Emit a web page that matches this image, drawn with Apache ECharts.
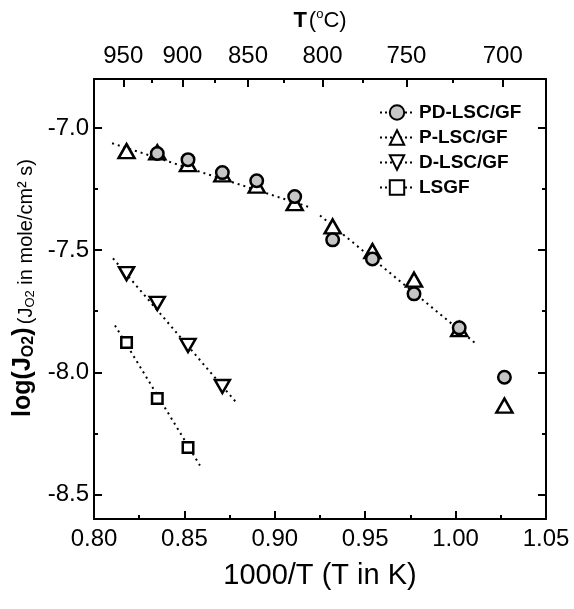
<!DOCTYPE html>
<html><head><meta charset="utf-8">
<script src="https://cdn.jsdelivr.net/npm/echarts@6/dist/echarts.min.js"></script>
<style>html,body{margin:0;padding:0;background:#fff}#c{width:574px;height:609px}</style>
</head><body><div id="c"></div>
<script>
// ---- tick definitions ----
const xTicks = [0.80, 0.85, 0.90, 0.95, 1.00, 1.05];
const xMinorTicks = [0.825, 0.875, 0.925, 0.975, 1.025];
const yTicks = [-8.5, -8.0, -7.5, -7.0];
const yMinorTicks = [-8.25, -7.75, -7.25];
const topTickLabels = ['950', '900', '850', '800', '750', '700'];
const topTickPositions = [0.8162, 0.8489, 0.8852, 0.9264, 0.9728, 1.0261];
const topMinorTickPositions = [0.8322, 0.8666, 0.9052, 0.9488, 0.9986];

// ---- series data ----
const seriesNames = ['PD-LSC/GF', 'P-LSC/GF', 'D-LSC/GF', 'LSGF'];
const pdX = [0.835, 0.852, 0.871, 0.890, 0.911, 0.932, 0.954, 0.977, 1.002, 1.027];
const pdY = [-7.105, -7.130, -7.183, -7.216, -7.281, -7.458, -7.536, -7.679, -7.818, -8.020];
const pX = [0.818, 0.835, 0.852, 0.871, 0.890, 0.911, 0.932, 0.954, 0.977, 1.002, 1.027];
const pY = [-7.095, -7.100, -7.148, -7.190, -7.236, -7.308, -7.403, -7.504, -7.621, -7.823, -8.136];
const dX = [0.818, 0.835, 0.852, 0.871];
const dY = [-7.596, -7.718, -7.890, -8.058];
const lX = [0.818, 0.835, 0.852];
const lY = [-7.878, -8.107, -8.308];

// ---- dotted fit lines (end points) ----
const fitHighTX = [0.810, 0.9195];
const fitHighTY = [-7.063, -7.325];
const fitLowTX = [0.925, 1.0118];
const fitLowTY = [-7.358, -7.886];
const fitDX = [0.8105, 0.8791];
const fitDY = [-7.534, -8.127];
const fitLX = [0.8116, 0.8586];
const fitLY = [-7.808, -8.381];

const FONT = "'Liberation Sans', Arial, Helvetica, sans-serif";
const zip = (xs, ys) => xs.map((x, i) => [x, ys[i]]);

function markSeries(name, xs, ys, symbol, size, fill, z) {
  return {
    type: 'line', name, data: zip(xs, ys), xAxisIndex: 0, yAxisIndex: 0,
    symbol, symbolSize: size, showSymbol: true, showAllSymbol: true,
    lineStyle: { opacity: 0, width: 2, color: '#000' },
    itemStyle: { color: fill, borderColor: '#000', borderWidth: 2.5 },
    z, animation: false, emphasis: { disabled: true }, silent: true
  };
}
function fitSeries(xs, ys) {
  return {
    type: 'line', data: zip(xs, ys), xAxisIndex: 0, yAxisIndex: 0,
    symbol: 'none', lineStyle: { color: '#000', width: 2, type: [2, 4] },
    z: 1, animation: false, silent: true
  };
}

const axisLineStyle = { show: true, lineStyle: { color: '#000', width: 2 } };
const tickStyle = { color: '#000', width: 2 };
const labelBase = { color: '#000', fontSize: 24, fontFamily: FONT };

const option = {
  backgroundColor: '#fff',
  animation: false,
  grid: [
    { left: 94, right: 28, top: 79, bottom: 90 },
    { left: 94, right: 28, top: 79, bottom: 90 }
  ],
  legend: {
    data: seriesNames,
    orient: 'vertical', left: 374, top: 98,
    itemWidth: 34, itemHeight: 18, itemGap: 6,
    textStyle: { fontWeight: 'bold', fontSize: 19, color: '#000', fontFamily: FONT },
    lineStyle: { type: [2, 3], width: 2, color: '#000', opacity: 1 },
    selectedMode: false
  },
  xAxis: [
    {
      gridIndex: 0, type: 'value', position: 'bottom', min: 0.8, max: 1.05,
      axisLine: axisLineStyle,
      axisTick: { show: true, inside: true, length: 8, lineStyle: tickStyle, customValues: xTicks },
      axisLabel: Object.assign({ customValues: xTicks, margin: 8, formatter: v => v.toFixed(2) }, labelBase),
      splitLine: { show: false },
      name: '1000/T (T in K)', nameLocation: 'middle', nameGap: 42,
      nameTextStyle: { fontSize: 29, color: '#000', fontFamily: FONT }
    },
    {
      gridIndex: 0, type: 'value', position: 'top', min: 0.8, max: 1.05,
      axisLine: axisLineStyle,
      axisTick: { show: true, inside: true, length: 8, lineStyle: tickStyle, customValues: topTickPositions },
      axisLabel: Object.assign({
        customValues: topTickPositions, margin: 11,
        formatter: v => {
          let best = 0;
          topTickPositions.forEach((p, i) => { if (Math.abs(p - v) < Math.abs(topTickPositions[best] - v)) best = i; });
          return topTickLabels[best];
        }
      }, labelBase),
      splitLine: { show: false },
      name: '{b|T}{n|(}{sup|o}{n|C)}', nameLocation: 'middle', nameGap: 45,
      nameTextStyle: {
        color: '#000', fontFamily: FONT,
        rich: {
          b: { fontSize: 22, fontWeight: 'bold', color: '#000', fontFamily: FONT, lineHeight: 26, padding: [0, 2, 0, 0] },
          n: { fontSize: 22, color: '#000', fontFamily: FONT, lineHeight: 26 },
          sup: { fontSize: 13, color: '#000', fontFamily: FONT, lineHeight: 13, verticalAlign: 'top' }
        }
      }
    },
    {
      gridIndex: 1, type: 'value', position: 'bottom', min: 0.8, max: 1.05,
      axisLine: { show: false },
      axisTick: { show: true, inside: true, length: 4, lineStyle: tickStyle, customValues: xMinorTicks },
      axisLabel: { show: false }, splitLine: { show: false }
    },
    {
      gridIndex: 1, type: 'value', position: 'top', min: 0.8, max: 1.05,
      axisLine: { show: false },
      axisTick: { show: true, inside: true, length: 4, lineStyle: tickStyle, customValues: topMinorTickPositions },
      axisLabel: { show: false }, splitLine: { show: false }
    }
  ],
  yAxis: [
    {
      gridIndex: 0, type: 'value', position: 'left', min: -8.6, max: -6.8,
      axisLine: axisLineStyle,
      axisTick: { show: true, inside: true, length: 8, lineStyle: tickStyle, customValues: yTicks },
      axisLabel: Object.assign({ customValues: yTicks, margin: 5, formatter: v => v.toFixed(1) }, labelBase),
      splitLine: { show: false },
      name: '{b|log(J}{bs|O}{bs|2}{b|)} {n|(J}{ns|O}{ns|2}{n| in mole/cm² s)}',
      nameLocation: 'middle', nameRotate: 90, nameGap: 57,
      nameTextStyle: {
        color: '#000', fontFamily: FONT, padding: [0, 0, 0, 22],
        rich: {
          b: { fontSize: 25, fontWeight: 'bold', color: '#000', fontFamily: FONT, lineHeight: 28 },
          bs: { fontSize: 16, fontWeight: 'bold', color: '#000', fontFamily: FONT, lineHeight: 16, verticalAlign: 'bottom' },
          n: { fontSize: 20, color: '#000', fontFamily: FONT, lineHeight: 24, verticalAlign: 'bottom' },
          ns: { fontSize: 13, color: '#000', fontFamily: FONT, lineHeight: 13, verticalAlign: 'bottom' }
        }
      }
    },
    {
      gridIndex: 0, type: 'value', position: 'right', min: -8.6, max: -6.8,
      axisLine: axisLineStyle,
      axisTick: { show: true, inside: true, length: 8, lineStyle: tickStyle, customValues: yTicks },
      axisLabel: { show: false }, splitLine: { show: false }
    },
    {
      gridIndex: 1, type: 'value', position: 'left', min: -8.6, max: -6.8,
      axisLine: { show: false },
      axisTick: { show: true, inside: true, length: 4, lineStyle: tickStyle, customValues: yMinorTicks },
      axisLabel: { show: false }, splitLine: { show: false }
    },
    {
      gridIndex: 1, type: 'value', position: 'right', min: -8.6, max: -6.8,
      axisLine: { show: false },
      axisTick: { show: true, inside: true, length: 4, lineStyle: tickStyle, customValues: yMinorTicks },
      axisLabel: { show: false }, splitLine: { show: false }
    }
  ],
  series: [
    fitSeries(fitHighTX, fitHighTY),
    fitSeries(fitLowTX, fitLowTY),
    fitSeries(fitDX, fitDY),
    fitSeries(fitLX, fitLY),
    markSeries('P-LSC/GF', pX, pY, 'triangle', [16, 14], '#fff', 3),
    markSeries('PD-LSC/GF', pdX, pdY, 'circle', 12.5, '#c6c6c6', 4),
    markSeries('D-LSC/GF', dX, dY, 'path://M0,0L20,0L10,17.32Z', [15, 13], '#fff', 3),
    markSeries('LSGF', lX, lY, 'rect', 10.5, '#fff', 3)
  ]
};

const chart = echarts.init(document.getElementById('c'), null, { renderer: 'canvas' });
chart.setOption(option);
</script>
</body></html>
